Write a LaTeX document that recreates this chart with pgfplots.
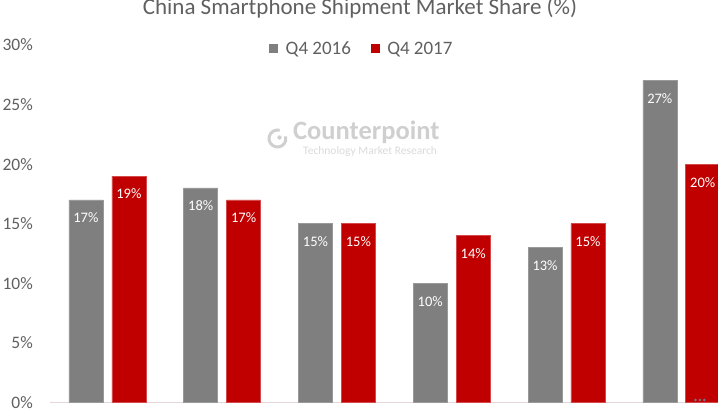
\documentclass[border=0pt]{standalone}
\usepackage{fontspec}
\setmainfont{Carlito}
\usepackage{pgfplots}
\pgfplotsset{compat=1.18}
\definecolor{qgray}{HTML}{7F7F7F}
\definecolor{qgrayedge}{HTML}{999999}
\definecolor{qred}{HTML}{C00000}
\definecolor{qrededge}{HTML}{D44A4A}
\definecolor{txtgray}{HTML}{606060}
\definecolor{basecol}{HTML}{E3D6D6}
\definecolor{wmark}{HTML}{CFCFCF}
\definecolor{wmarklight}{HTML}{DADADA}
\begin{document}
\begin{tikzpicture}[x=1pt,y=1pt]
\begin{axis}[
    at={(50pt,17.5pt)}, anchor=south west,
    scale only axis, width=668pt, height=357.5pt,
    xmin=-0.5, xmax=5.32, ymin=0, ymax=30,
    axis x line*=bottom, axis y line*=left,
    x axis line style={draw=basecol, line width=1pt, -},
    y axis line style={draw=none},
    xtick=\empty, ytick={0,5,...,30},
    major tick length=0pt,
    /pgf/number format/assume math mode=true,
    yticklabel={\pgfmathprintnumber{\tick}\%},
    yticklabel style={font=\fontsize{17.5}{20}\selectfont, text=txtgray,
        anchor=east, inner sep=0pt, xshift=-17pt},
    ybar, bar width=0.296,
    nodes near coords={\pgfmathprintnumber{\pgfplotspointmeta}\%},
    every node near coord/.append style={font=\fontsize{14.5}{16}\selectfont,
        text=white, anchor=center, yshift=-18pt},
    legend style={at={(0.467,0.989)}, anchor=center, draw=none, fill=none,
        font=\fontsize{19}{22}\selectfont, text=txtgray,
        /tikz/every even column/.append style={column sep=18pt}},
    legend columns=2,
    legend image code/.code={\fill[#1,draw=none] (0pt,-4.5pt) rectangle (9pt,4.5pt);
        \path (14pt,0pt);},
]
% Q4 2016
\addplot[fill=qgray, draw=qgrayedge, line width=0.6pt, bar shift=-0.187]
    coordinates {(0,17) (1,18) (2,15) (3,10) (4,13) (5,27)};
% Q4 2017
\addplot[fill=qred, draw=qrededge, line width=0.6pt, bar shift=0.187]
    coordinates {(0,19) (1,17) (2,15) (3,14) (4,15) (5,20)};
\legend{Q4 2016, Q4 2017}
\end{axis}
% title, cut at the top like the reference
\node[anchor=base, font=\fontsize{23}{26}\selectfont, text=txtgray]
    at (360,405) {China Smartphone Shipment Market Share (\%)};
% watermark
\draw[wmark, line width=3pt] (277.5,281.5) ++(75:8.5) arc[start angle=75, end angle=375, radius=8.5];
\fill[wmark] (279.5,282.5) circle (2.2);
\node[anchor=base west, inner sep=0pt, font=\fontsize{26.5}{28}\selectfont\bfseries, text=wmark]
    at (293,280) {Counterpoint};
\node[anchor=base west, inner sep=0pt, font=\fontsize{11.5}{13}\selectfont, text=wmarklight]
    at (303,265) {Technology Market Research};
\node[anchor=base, inner sep=0pt, font=\fontsize{9}{10}\selectfont, text=cyan!70!white]
    at (700,14) {***};
\pgfresetboundingbox
\path[use as bounding box] (0,0) rectangle (718,420);
\end{tikzpicture}
\end{document}
